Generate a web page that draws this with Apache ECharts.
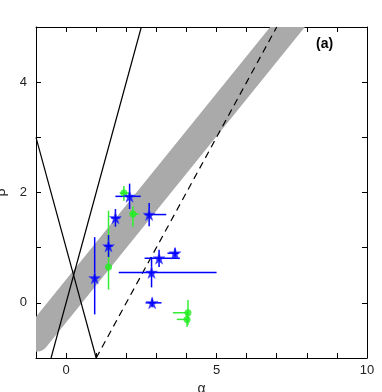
<!DOCTYPE html>
<html><head><meta charset="utf-8">
<script src="https://cdn.jsdelivr.net/npm/echarts@6/dist/echarts.min.js"></script>
<style>html,body{margin:0;padding:0;background:#fff}#c{width:382px;height:392px}</style>
</head><body><div id="c"></div>
<script>
// Blue stars
const starAlpha   = [2.11, 1.64, 2.76, 1.41, 0.95, 2.84, 3.09, 3.62, 2.86];
const starBeta    = [1.93, 1.54, 1.60, 1.03, 0.45, 0.55, 0.81, 0.90, 0.00];
const starAlphaLo = [1.64, 1.50, 2.61, 1.28, 0.92, 1.75, 2.61, 3.37, 2.64];
const starAlphaHi = [2.48, 1.80, 3.33, 1.55, 0.98, 5.00, 3.78, 3.75, 3.17];
const starBetaLo  = [1.70, 1.38, 1.39, 0.83, -0.21, 0.28, 0.65, 0.81, -0.08];
const starBetaHi  = [2.16, 1.70, 1.81, 1.23, 1.19, 0.83, 0.96, 0.99, 0.08];
// Green dots
const dotAlpha   = [1.92, 2.22, 1.41, 4.05, 4.02];
const dotBeta    = [1.99, 1.61, 0.65, -0.18, -0.30];
const dotAlphaLo = [1.78, 2.11, 1.38, 3.55, 3.68];
const dotAlphaHi = [2.11, 2.42, 1.44, 4.05, 4.02];
const dotBetaLo  = [1.85, 1.38, 0.24, -0.40, -0.44];
const dotBetaHi  = [2.12, 1.75, 1.67, 0.05, -0.19];
// Lines
const lineA = [[-0.5, -1], [2.5, 5]];      // beta = 2 alpha
const lineB = [[-1, 3], [1, -1]];          // beta = 1 - 2 alpha
const lineDash = [[1, -1], [7, 5]];        // beta = alpha - 2
const bandLine = [[-1, -0.64], [8.5, 5.77]];
const xLabels = [0, 5, 10];
const yLabels = [0, 2, 4];

const starData = starAlpha.map((a,i)=>[a, starBeta[i], starAlphaLo[i], starAlphaHi[i], starBetaLo[i], starBetaHi[i]]);
const dotData = dotAlpha.map((a,i)=>[a, dotBeta[i], dotAlphaLo[i], dotAlphaHi[i], dotBetaLo[i], dotBetaHi[i]]);

function errRender(color){
  return function(params, api){
    const x=api.value(0), y=api.value(1);
    const p1=api.coord([api.value(2), y]), p2=api.coord([api.value(3), y]);
    const p3=api.coord([x, api.value(4)]), p4=api.coord([x, api.value(5)]);
    return {type:'group', children:[
      {type:'line', shape:{x1:p1[0],y1:p1[1],x2:p2[0],y2:p2[1]}, style:{stroke:color, lineWidth:1.5}},
      {type:'line', shape:{x1:p3[0],y1:p3[1],x2:p4[0],y2:p4[1]}, style:{stroke:color, lineWidth:1.5}}
    ]};
  };
}
function bandRender(params, api){
  const cs = params.coordSys;
  const pts = bandLine.map(p=>api.coord(p));
  return {type:'group', clipPath:{type:'rect', shape:{x:cs.x, y:cs.y, width:cs.width, height:cs.height}},
    children:[{type:'polyline', shape:{points:pts}, style:{stroke:'#aaaaaa', lineWidth:27, lineCap:'round', fill:null}}]};
}
const starPath = 'path://M50,0 L61,35 L98,35 L68,57 L79,91 L50,70 L21,91 L32,57 L2,35 L39,35 Z';
const font = 'Liberation Sans';
const axisCommon = {
  axisLine:{show:true, onZero:false, lineStyle:{color:'#000', width:1}},
  axisTick:{show:true, inside:true, length:5, lineStyle:{color:'#000'}},
  splitLine:{show:false}
};
const chart = echarts.init(document.getElementById('c'), null, {renderer:'canvas'});
chart.setOption({
  animation:false,
  grid:{left:36, right:15, top:27, bottom:34, containLabel:false, outerBoundsMode:'none'},
  xAxis:[
    Object.assign({type:'value', min:-1, max:10, interval:1, position:'bottom',
      name:'α', nameLocation:'middle', nameGap:24,
      nameTextStyle:{fontFamily:font, fontSize:14, color:'#222'},
      axisLabel:{margin:6, fontFamily:font, fontSize:13, color:'#222',
        formatter:v=>xLabels.includes(v)?String(v):''}}, axisCommon),
    Object.assign({type:'value', min:-1, max:10, interval:1, position:'top', axisLabel:{show:false}}, axisCommon)
  ],
  yAxis:[
    Object.assign({type:'value', min:-1, max:5, interval:1, position:'left',
      name:'β', nameLocation:'middle', nameGap:28, nameRotate:90,
      nameTextStyle:{fontFamily:font, fontSize:14, color:'#222'},
      axisLabel:{margin:9, fontFamily:font, fontSize:13, color:'#222',
        formatter:v=>yLabels.includes(v)?String(v):''}}, axisCommon),
    Object.assign({type:'value', min:-1, max:5, interval:1, position:'right', axisLabel:{show:false}}, axisCommon)
  ],
  graphic:[{type:'text', left:316, top:37, style:{text:'(a)', font:'bold 14px "Liberation Sans"', fill:'#000'}}],
  series:[
    {type:'custom', data:[[0,0]], encode:{x:0,y:1}, renderItem:bandRender, silent:true, z:1},
    {type:'line', data:lineA, showSymbol:false, clip:true, lineStyle:{color:'#000', width:1.2}, z:2},
    {type:'line', data:lineB, showSymbol:false, clip:true, lineStyle:{color:'#000', width:1.2}, z:2},
    {type:'line', data:lineDash, showSymbol:false, clip:true, lineStyle:{color:'#000', width:1.2, type:[7,5]}, z:2},
    {type:'custom', data:dotData, encode:{x:0,y:1}, renderItem:errRender('#33ee33'), z:3},
    {type:'custom', data:starData, encode:{x:0,y:1}, renderItem:errRender('#0000ff'), z:3},
    {type:'scatter', data:dotData.map(d=>[d[0],d[1]]), symbol:'circle', symbolSize:7,
      itemStyle:{color:'#22ee22'}, z:4},
    {type:'scatter', data:starData.map(d=>[d[0],d[1]]), symbol:starPath, symbolSize:12,
      itemStyle:{color:'#0000ff', borderColor:'rgba(60,60,255,0.5)', borderWidth:1}, z:5}
  ]
});
</script></body></html>
